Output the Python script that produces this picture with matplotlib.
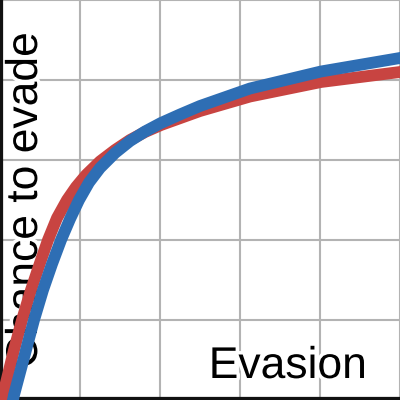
import matplotlib
matplotlib.use('Agg')
import matplotlib.pyplot as plt
import matplotlib.patheffects as pe

# values (evasion 0..500, chance 0..1)
red_evasion = [0, 3.75, 17.5, 27.5, 38.75, 50, 60, 71.25, 83.75, 95, 107.5, 125,
               143.75, 162.5, 181.25, 201.25, 250, 312.5, 401.25, 500]
red_chance = [-0.0125, 0.0125, 0.125, 0.2, 0.275, 0.3425, 0.4, 0.455, 0.5, 0.5325, 0.5625, 0.5965,
              0.625, 0.65, 0.67, 0.6875, 0.7225, 0.75875, 0.795, 0.82]

blue_evasion = [15, 17.5, 32.5, 42.5, 53.75, 65, 76.25, 87.5, 98.75, 111.25, 125, 143.75,
                162.5, 181.25, 201.25, 225, 250, 312.5, 401.25, 500]
blue_chance = [-0.0125, 0.0125, 0.125, 0.2, 0.275, 0.34, 0.4, 0.4525, 0.5, 0.54375, 0.58, 0.6175,
               0.6475, 0.67125, 0.6925, 0.71375, 0.735, 0.77875, 0.82125, 0.855]

x_ticks = [0, 100, 200, 300, 400, 500]
y_ticks = [0, 0.2, 0.4, 0.6, 0.8, 1.0]

plt.rcParams['font.family'] = ['Liberation Sans', 'DejaVu Sans']

fig = plt.figure(figsize=(4, 4), dpi=100)
ax = fig.add_axes([0, 0, 1, 1])
ax.set_xlim(0, 500)
ax.set_ylim(0, 1)
ax.set_xticks(x_ticks)
ax.set_yticks(y_ticks)
ax.tick_params(length=0, labelbottom=False, labelleft=False)
ax.grid(True, color='#b3b3b3', linewidth=1.5)
ax.set_axisbelow(True)

for side in ['top', 'right']:
    ax.spines[side].set_visible(False)
for side in ['left', 'bottom']:
    ax.spines[side].set_linewidth(4.5)
    ax.spines[side].set_color('#111111')

stroke = [pe.withStroke(linewidth=5, foreground='white')]
ax.text(0.9175, 0.055, 'Evasion', transform=ax.transAxes, fontsize=32,
        ha='right', va='baseline', zorder=2, path_effects=stroke)
ax.text(0.0125, 0.5, 'Chance to evade', transform=ax.transAxes, fontsize=32,
        rotation=90, ha='left', va='center', zorder=2, path_effects=stroke)

ax.plot(red_evasion, red_chance, color='#c84441', linewidth=8.5, zorder=3,
        solid_joinstyle='round')
ax.plot(blue_evasion, blue_chance, color='#2e6eb4', linewidth=8.5, zorder=4,
        solid_joinstyle='round')

fig.savefig('out.png', dpi=100)
plt.close(fig)
